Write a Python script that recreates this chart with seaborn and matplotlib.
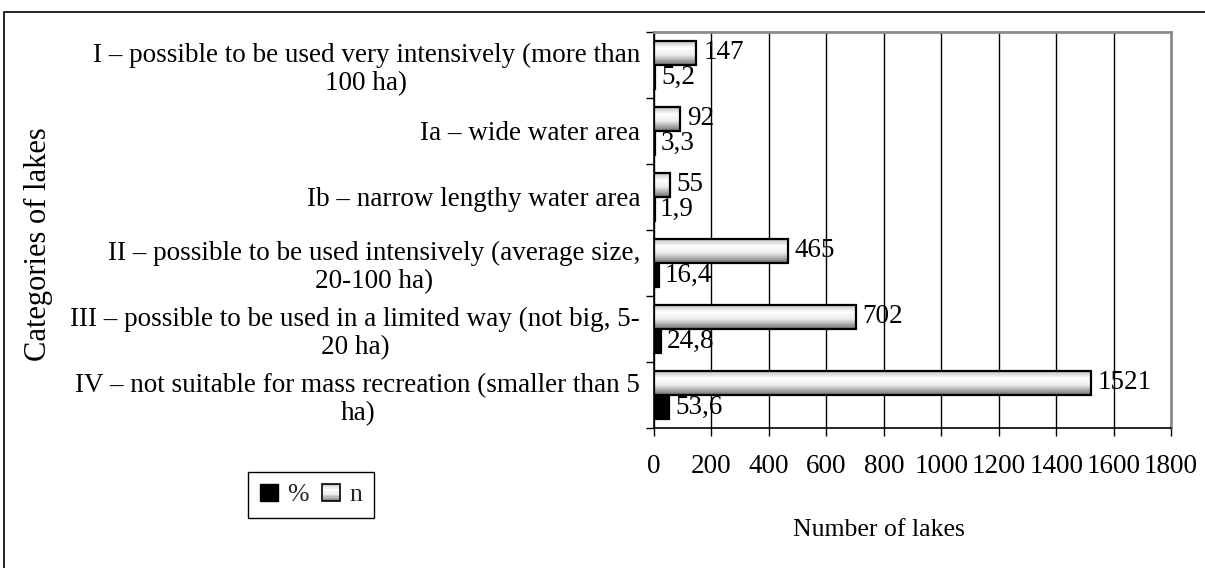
import numpy as np
import pandas as pd
import matplotlib
matplotlib.use("Agg")
import matplotlib.pyplot as plt
import seaborn as sns
from matplotlib.patches import Rectangle
from matplotlib.legend_handler import HandlerBase
from matplotlib.colors import LinearSegmentedColormap

# ---- data -------------------------------------------------------------
categories = [
    "I – possible to be used very intensively (more than\n100 ha)",
    "Ia – wide water area",
    "Ib – narrow lengthy water area",
    "II – possible to be used intensively (average size,\n20-100 ha)",
    "III – possible to be used in a limited way (not big, 5-\n20 ha)",
    "IV – not suitable for mass recreation (smaller than 5\nha)",
]
lake_counts = [147, 92, 55, 465, 702, 1521]          # n
lake_shares = [5.2, 3.3, 1.9, 16.4, 24.8, 53.6]      # %
series_names = ["n", "%"]
x_ticks = [0, 200, 400, 600, 800, 1000, 1200, 1400, 1600, 1800]

df = pd.DataFrame({
    "category": categories * 2,
    "series": ["n"] * len(categories) + ["%"] * len(categories),
    "value": lake_counts + lake_shares,
})

# ---- style ------------------------------------------------------------
sns.set_theme(style="white")
plt.rcParams["font.family"] = ["Liberation Serif", "DejaVu Serif"]
FS = 19.5
FS_LABEL = 18.5

W, H = 1205, 568
fig = plt.figure(figsize=(W / 100, H / 100), dpi=100)
ax = fig.add_axes([654 / W, 1 - 428 / H, (1171 - 654) / W, (428 - 32) / H])

sns.barplot(
    data=df, y="category", x="value", hue="series", hue_order=series_names,
    palette={"n": "white", "%": "black"}, orient="h", width=0.73,
    saturation=1, errorbar=None, edgecolor="black", linewidth=1.6,
    legend=False, ax=ax,
)

# cylinder-like shading for the count bars
shade = LinearSegmentedColormap.from_list(
    "shade",
    [(0.0, "#b8b8b8"), (0.32, "#ffffff"), (0.6, "#ececec"), (1.0, "#6e6e6e")],
)
grad = np.linspace(0, 1, 200).reshape(-1, 1)
for patch in ax.containers[0]:
    bb = patch.get_bbox()
    im = ax.imshow(grad, cmap=shade, vmin=0, vmax=1, aspect="auto",
                   extent=(bb.x0, bb.x1, bb.y1, bb.y0), origin="upper",
                   interpolation="bilinear", zorder=1.5)
    im.set_clip_path(patch)
    patch.set_facecolor("none")
    patch.set_zorder(2)

# value labels
ax.bar_label(ax.containers[0], labels=[str(v) for v in lake_counts],
             padding=5, fontsize=FS, color="black")
ax.bar_label(ax.containers[1],
             labels=[f"{v:.1f}".replace(".", ",") for v in lake_shares],
             padding=4, fontsize=FS, color="black")

# ---- axes -------------------------------------------------------------
ax.set_xlim(0, 1800)
ax.set_ylim(5.5, -0.5)
ax.set_xticks(x_ticks)
ax.set_xticklabels([str(t) for t in x_ticks])
ax.set_yticks(range(len(categories)))
ax.set_yticklabels(categories)
ax.set_yticks(np.arange(-0.5, len(categories), 1.0), minor=True)

ax.tick_params(axis="x", which="major", direction="out", length=6, width=1,
               color="black", pad=13, labelsize=FS, labelcolor="black",
               bottom=True)
ax.tick_params(axis="y", which="major", length=0, pad=10, labelsize=FS,
               labelcolor="black")
ax.tick_params(axis="y", which="minor", direction="out", length=6, width=1,
               color="black", left=True)
for lbl in ax.get_yticklabels():
    lbl.set_multialignment("center")
    lbl.set_linespacing(1.15)

ax.set_axisbelow(True)
ax.xaxis.grid(True, color="black", linewidth=1)
ax.yaxis.grid(False)

for side in ("left", "bottom"):
    ax.spines[side].set_color("black")
    ax.spines[side].set_linewidth(1.2)
for side in ("top", "right"):
    ax.spines[side].set_color("#8c8c8c")
    ax.spines[side].set_linewidth(2)

ax.set_xlabel("Number of lakes", fontsize=FS_LABEL, color="black")
ax.xaxis.set_label_coords(879 / W, 1 - 530 / H, transform=fig.transFigure)
ax.xaxis.label.set_va("center")
ax.set_ylabel("Categories of lakes", fontsize=22, color="black")
ax.yaxis.set_label_coords(38 / W, 1 - 244 / H, transform=fig.transFigure)
ax.yaxis.label.set_va("center")

# ---- legend -----------------------------------------------------------
class ShadedHandler(HandlerBase):
    def create_artists(self, legend, orig_handle, xdescent, ydescent,
                       width, height, fontsize, trans):
        arts = []
        steps = 14
        for i in range(steps):
            t = (i + 0.5) / steps
            y = -ydescent + height * (1 - (i + 1) / steps)
            arts.append(Rectangle((-xdescent, y), width, height / steps,
                                  facecolor=shade(t), edgecolor="none",
                                  transform=trans))
        arts.append(Rectangle((-xdescent, -ydescent), width, height,
                              facecolor="none", edgecolor="black",
                              linewidth=1.2, transform=trans))
        return arts

pct_handle = Rectangle((0, 0), 1, 1, facecolor="black", edgecolor="black")
n_handle = Rectangle((0, 0), 1, 1, facecolor="white", edgecolor="black")
leg = fig.legend(
    [pct_handle, n_handle], ["%", "n"], ncol=2, loc="center",
    bbox_to_anchor=(311 / W, 1 - 495 / H), fontsize=FS_LABEL,
    handlelength=0.7, handleheight=0.7, handletextpad=0.35,
    columnspacing=0.55, borderpad=0.45, fancybox=False, framealpha=1,
    handler_map={n_handle: ShadedHandler()},
)
leg.get_frame().set_edgecolor("black")
leg.get_frame().set_linewidth(1)

# outer frame of the figure
fig.add_artist(Rectangle((4 / W, -0.1), 1.2, 1 - 12 / H + 0.1,
                         transform=fig.transFigure, fill=False,
                         edgecolor="black", linewidth=1.2, clip_on=False))

fig.savefig("out.png", dpi=100)
